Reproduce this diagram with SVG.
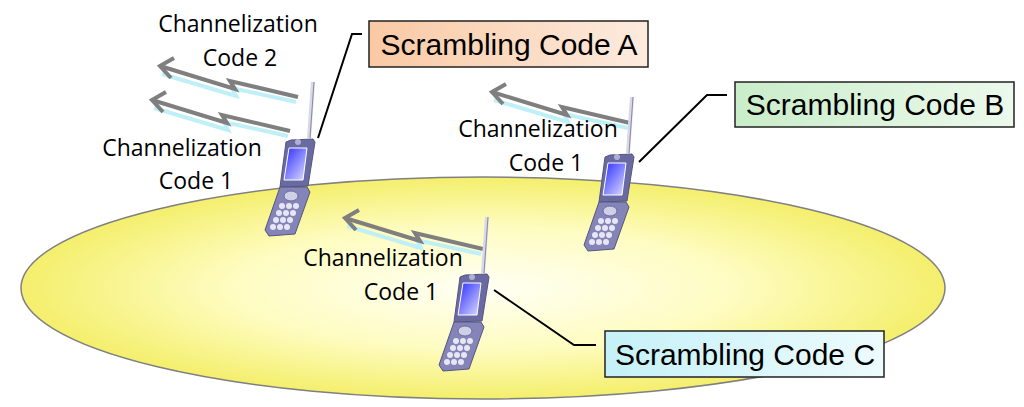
<svg xmlns="http://www.w3.org/2000/svg" width="1024" height="407" viewBox="0 0 1024 407">
<style>
.t{font-family:"Open Sans","Liberation Sans",sans-serif;font-size:23px;fill:#000;text-anchor:middle}
.b{font-family:"Liberation Sans",sans-serif;font-size:30px;fill:#000;text-anchor:middle}
.box{stroke:#222;stroke-width:1.5}
.call{fill:none;stroke:#000;stroke-width:2}
.bolt{fill:none;stroke:#7f7f7f;stroke-width:4;stroke-linejoin:miter}
.glow{fill:none;stroke:#bff0f7;stroke-width:4}
</style>
<defs>
<radialGradient id="eg" cx="0.5" cy="0.5" r="0.5">
<stop offset="0" stop-color="#fffff4"/><stop offset="0.55" stop-color="#fefcc0"/><stop offset="1" stop-color="#f4ef6c"/>
</radialGradient>
<linearGradient id="ga" x1="0" y1="0" x2="1" y2="0"><stop offset="0" stop-color="#f9c9a3"/><stop offset="1" stop-color="#fdebdf"/></linearGradient>
<linearGradient id="gb" x1="0" y1="0" x2="1" y2="0"><stop offset="0" stop-color="#c9edc9"/><stop offset="1" stop-color="#ecf9ec"/></linearGradient>
<linearGradient id="gc" x1="0" y1="0" x2="1" y2="0"><stop offset="0" stop-color="#c5f1f8"/><stop offset="1" stop-color="#edfbfd"/></linearGradient>
<linearGradient id="scr" x1="0" y1="0" x2="1" y2="1"><stop offset="0" stop-color="#2a2aff"/><stop offset="1" stop-color="#e0e0ff"/></linearGradient>
<g id="bolt">
<polyline class="glow" points="138,34 74,20 78,28 4,6" transform="translate(0,2)"/>
<polyline class="bolt" points="140,31 72,15 77,23 2,0"/>
<polyline class="bolt" points="16,-8 2,0 13,12"/>
</g>
<g id="phone">
<line x1="0" y1="0" x2="-4" y2="56" stroke="#d8d8e8" stroke-width="4"/>
<line x1="1" y1="0" x2="-3" y2="56" stroke="#8888aa" stroke-width="1"/>
<path d="M-22,58 L0,57 L2,60 L-5,104 L-33,105 L-27,60 Z" fill="#6a6aa2" stroke="#555580"/>
<circle cx="-15" cy="60" r="3" fill="#b0b0d0"/>
<path d="M-24,66 L-6,66 L-10,98 L-29,98 Z" fill="url(#scr)" stroke="#fff" stroke-width="1"/>
<path d="M-33,105 L-6,105 L-3,110 L-18,152 L-44,154 L-48,148 Z" fill="#8484b8" stroke="#555580"/>
<ellipse cx="-22" cy="114" rx="7" ry="5" fill="#cfcfe6" stroke="#6a6aa2"/>
<g fill="#e6e6f4">
<circle cx="-31" cy="124" r="3"/><circle cx="-24" cy="124" r="3"/><circle cx="-17" cy="124" r="3"/>
<circle cx="-34" cy="131" r="3"/><circle cx="-27" cy="131" r="3"/><circle cx="-20" cy="131" r="3"/>
<circle cx="-37" cy="138" r="3"/><circle cx="-30" cy="138" r="3"/><circle cx="-23" cy="138" r="3"/>
<circle cx="-40" cy="145" r="3"/><circle cx="-33" cy="145" r="3"/><circle cx="-26" cy="145" r="3"/>
</g>
</g>
</defs>
<ellipse cx="483" cy="288" rx="462" ry="111" fill="url(#eg)" stroke="#808080" stroke-width="1.5"/>
<g id="connectors">
<use href="#bolt" x="158" y="66"/>
<use href="#bolt" x="150" y="100"/>
<use href="#bolt" x="490" y="92"/>
<use href="#bolt" x="343" y="218"/>
<polyline class="call" points="318,138 352,34 362,34"/>
<polyline class="call" points="639,162 707,95 727,95"/>
<polyline class="call" points="494,290 574,345 596,345"/>
</g>
<g id="phoneA"><use href="#phone" x="313" y="82"/></g>
<g id="phoneB"><use href="#phone" x="632" y="97"/></g>
<g id="phoneC"><use href="#phone" x="487" y="217"/></g>
<g id="labels">
<text class="t" x="238" y="32">Channelization</text>
<text class="t" x="240" y="66">Code 2</text>
<text class="t" x="182" y="156">Channelization</text>
<text class="t" x="196" y="189">Code 1</text>
<text class="t" x="538" y="137">Channelization</text>
<text class="t" x="546" y="171">Code 1</text>
<text class="t" x="383" y="266">Channelization</text>
<text class="t" x="401" y="300">Code 1</text>
</g>
<g id="boxA"><rect class="box" x="369" y="21" width="279" height="46" fill="url(#ga)"/><text class="b" x="509" y="55">Scrambling Code A</text></g>
<g id="boxB"><rect class="box" x="735" y="82" width="279" height="45" fill="url(#gb)"/><text class="b" x="875" y="115">Scrambling Code B</text></g>
<g id="boxC"><rect class="box" x="605" y="331" width="279" height="46" fill="url(#gc)"/><text class="b" x="745" y="365">Scrambling Code C</text></g>
</svg>
